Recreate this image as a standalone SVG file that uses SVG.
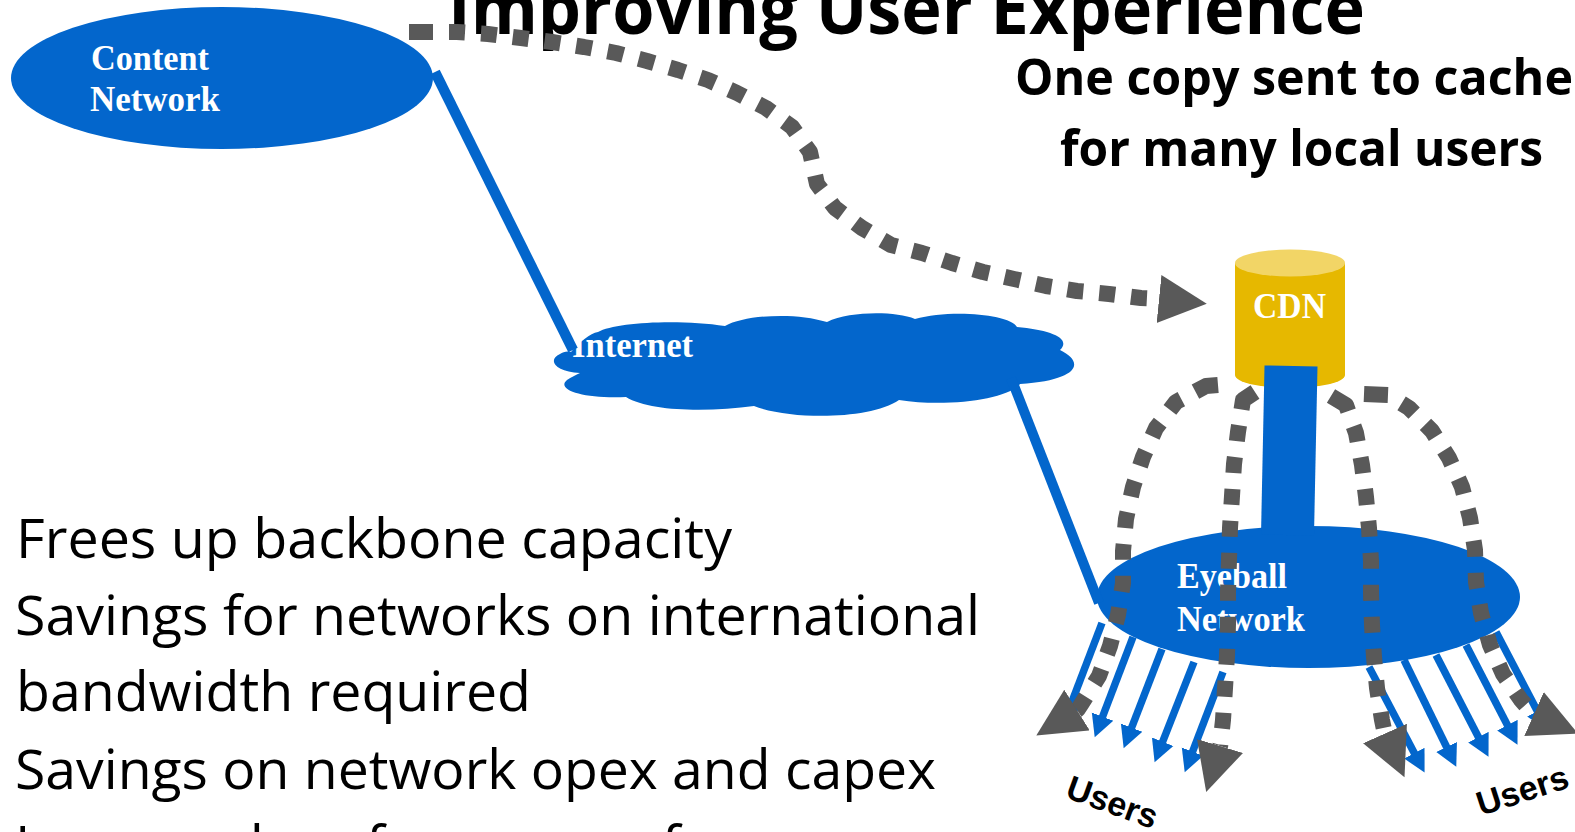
<svg xmlns="http://www.w3.org/2000/svg" width="1575" height="832" viewBox="0 0 1575 832">
<defs>
<marker id="ga" markerUnits="userSpaceOnUse" markerWidth="50" markerHeight="50" refX="0" refY="24" orient="auto"><path d="M0,0 L48,24 L0,48 Z" fill="#595959"/></marker>
<marker id="ba" markerUnits="userSpaceOnUse" markerWidth="24" markerHeight="24" refX="10" refY="12" orient="auto"><path d="M0,0.5 L22,12 L0,23.5 Z" fill="#0366cc"/></marker>
</defs>
<style>
.b{fill:#0366cc}
.bl{stroke:#0366cc;fill:none}
.u{stroke:#0366cc;stroke-width:7.5;fill:none;marker-end:url(#ba)}
.d{stroke:#595959;fill:none;stroke-width:16;stroke-linejoin:round;marker-end:url(#ga);stroke-dasharray:24 16 16 16 16 16 16 16 16 16 16 16 16 16 16 16 16 16 16 16 16 16 16 16 16 16 16 16 16 16 16 16 16 16 16 16 16 16 16 16 16 16 16 16 16 16 16 16 16 16 16 16 16 16 16 16 16 16 16 16 16 16}
.w{font-family:"Liberation Serif",serif;font-weight:bold;fill:#fff;font-size:36px}
.t{font-family:"Open Sans",sans-serif;fill:#000;font-size:54px}
.h{font-family:"Open Sans",sans-serif;fill:#000;font-weight:bold}
.us{font-family:"Liberation Sans",sans-serif;font-weight:bold;font-size:34px;fill:#000}
</style>
<g id="title"><text class="h" x="448" y="34" font-size="72" textLength="917" lengthAdjust="spacingAndGlyphs">Improving User Experience</text></g>
<g id="caption"><text class="h" x="1015" y="95" font-size="50" textLength="558" lengthAdjust="spacingAndGlyphs">One copy sent to cache</text><text class="h" x="1060" y="166" font-size="50" textLength="483" lengthAdjust="spacingAndGlyphs">for many local users</text></g>
<g id="body">
<text class="t" x="16" y="558" textLength="716" lengthAdjust="spacingAndGlyphs">Frees up backbone capacity</text>
<text class="t" x="15" y="635" textLength="965" lengthAdjust="spacingAndGlyphs">Savings for networks on international</text>
<text class="t" x="16" y="711" textLength="515" lengthAdjust="spacingAndGlyphs">bandwidth required</text>
<text class="t" x="15" y="789" textLength="921" lengthAdjust="spacingAndGlyphs">Savings on network opex and capex</text>
<text class="t" x="15" y="865" textLength="665" lengthAdjust="spacingAndGlyphs">Improved performance of</text>
</g>
<g id="content-network"><ellipse class="b" cx="222" cy="78" rx="211" ry="71"/><text class="w" x="91" y="70" textLength="118" lengthAdjust="spacingAndGlyphs">Content</text><text class="w" x="90" y="111" textLength="130" lengthAdjust="spacingAndGlyphs">Network</text></g>
<g id="cdn"><path d="M1235,263 V375 A55,13 0 0 0 1345,375 V263 Z" fill="#e6b800"/><ellipse cx="1290" cy="263" rx="55" ry="13.5" fill="#f2d566"/><text class="w" x="1253" y="318" textLength="73" lengthAdjust="spacingAndGlyphs">CDN</text></g>
<g id="internet"><path class="b" d="M580,373 C555,372 547,360 560,354 C563,352 567,351 571,352 C580,342 590,333 598,332 C615,322 680,319 725,326 C745,315 795,312 827,322 C850,311 895,311 915,319 C950,309 1010,314 1017,327 C1050,330 1072,338 1060,350 C1085,362 1080,380 1020,384 C1010,398 950,408 899,400 C870,420 790,420 754,406 C710,412 650,412 626,397 C585,399 555,390 567,380 C571,377 576,375 580,373 Z"/><text class="w" x="572" y="357" textLength="121" lengthAdjust="spacingAndGlyphs">Internet</text></g>
<g id="eyeball-network"><ellipse class="b" cx="1308.5" cy="597" rx="211.5" ry="71"/><text class="w" x="1177" y="588" textLength="110" lengthAdjust="spacingAndGlyphs">Eyeball</text><text class="w" x="1177" y="631" textLength="128" lengthAdjust="spacingAndGlyphs">Network</text></g>
<g id="connectors">
<path class="bl" stroke-width="10.5" d="M435,72 L573,350"/>
<path class="bl" stroke-width="10" d="M1011,378 L1099,603"/>
<path class="bl" stroke-width="53" d="M1291,366 L1287.5,535"/>
<path class="u" d="M1102,623 L1068,712"/>
<path class="u" d="M1133,637 L1099,726"/>
<path class="u" d="M1162,649 L1128,737"/>
<path class="u" d="M1194,662 L1159,751"/>
<path class="u" d="M1223,672 L1189,761"/>
<path class="u" d="M1369,667 L1419,762"/>
<path class="u" d="M1404,660 L1451,756"/>
<path class="u" d="M1436,655 L1483,746"/>
<path class="u" d="M1466,645 L1512,734"/>
<path class="u" d="M1496,632 L1542,720"/>
<path class="d" d="M409,32 L457,32 L488,34 L521,38 L552,42 L584,47 L616,53 L647,61 L678,70 L708,80 L737,93 L766,108 L792,127 L810,152 L817,184 L835,208 L862,228 L891,245 L922,253 L952,263 L983,272 L1014,279 L1046,286 L1077,291 L1109,294 L1141,298 L1158,298.9 L1159,299"/>
<path class="d" d="M1218,385 L1206,386 L1176,402 L1156,428 L1143,457 L1133,487 L1126,519 L1123,551 L1123,583 L1118,615 L1110,646 L1099,676 L1082,703 L1077.8,709.5 L1077,710"/>
<path class="d" d="M1255,392 L1243,400 L1238,432 L1234,464 L1232,496 L1230,528 L1229,560 L1228,592 L1228,624 L1227,656 L1225,688 L1223,720 L1220.3,745 L1220,746"/>
<path class="d" d="M1331,396 L1346,405 L1356,433 L1362,465 L1366,497 L1369,528 L1371,561 L1371,593 L1372,625 L1374,657 L1377,688 L1382,720 L1384.6,732.6 L1385,733.5"/>
<path class="d" d="M1364,394 L1388,395 L1409,408 L1432,431 L1449,458 L1462,487 L1470,518 L1475,550 L1476,582 L1481,613 L1490,645 L1503,674 L1521,700 L1533.1,713.6 L1534,714"/>
</g>
<g id="users"><text class="us" transform="translate(1064,797) rotate(20)">Users</text><text class="us" transform="translate(1481,816) rotate(-18)">Users</text></g>
</svg>
